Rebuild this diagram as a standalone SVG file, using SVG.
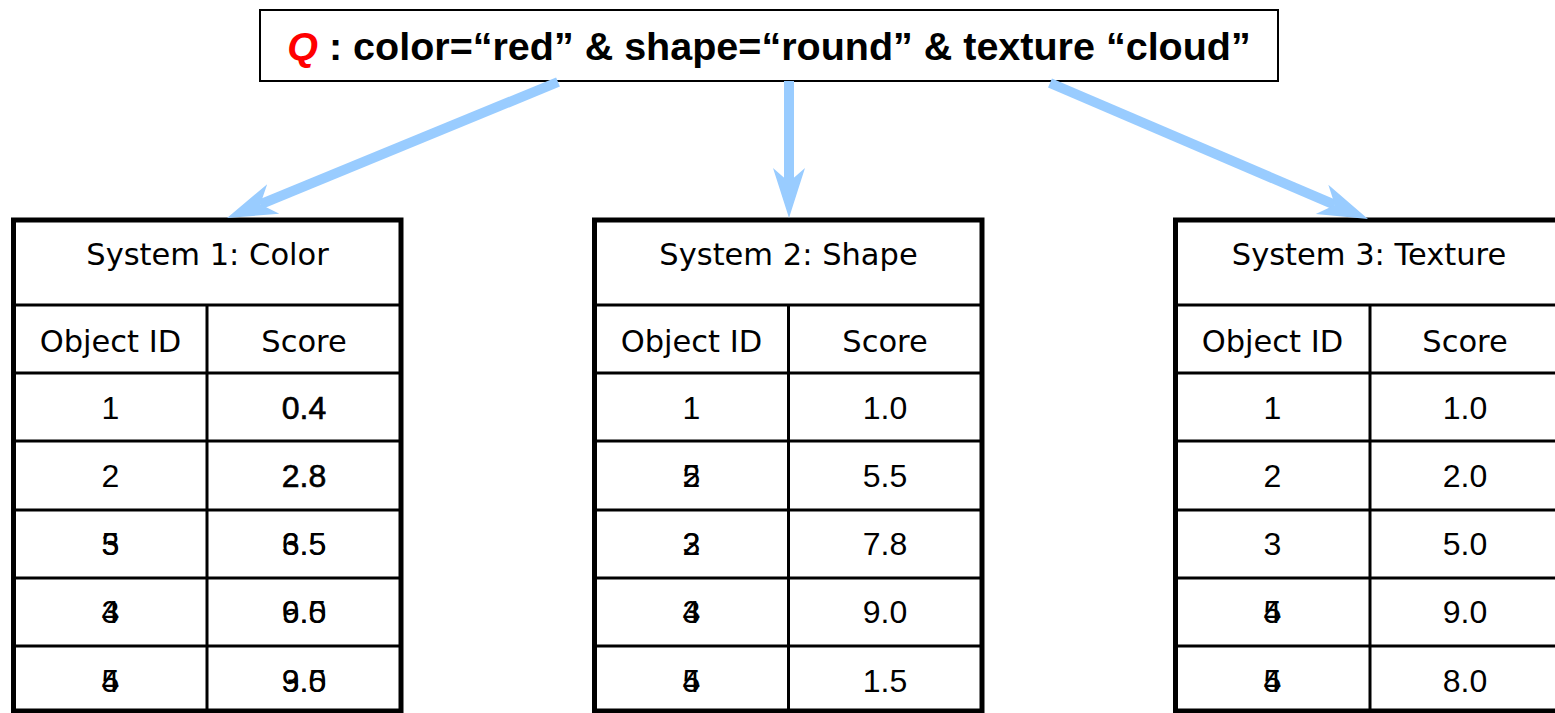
<svg xmlns="http://www.w3.org/2000/svg" width="1555" height="713" viewBox="0 0 1555 713">
<defs>
<style>
.box{fill:#fff;stroke:#000;stroke-width:2}
.tb{fill:#fff;stroke:#000;stroke-width:5}
.ln{stroke:#000;stroke-width:3;fill:none}
.hd{font-family:"DejaVu Sans",Verdana,sans-serif;font-size:30.5px;text-anchor:middle;fill:#000}
.dt{font-family:"Liberation Sans",Arial,sans-serif;font-size:32px;text-anchor:middle;fill:#000}
.dk{stroke:#000;stroke-width:0.6}
.ttl{font-family:"Liberation Sans",Arial,sans-serif;font-size:39.5px;font-weight:bold;text-anchor:middle;fill:#000}
.arr{stroke:#99CCFF;stroke-width:10;fill:none;marker-end:url(#ah)}
</style>
<marker id="ah" markerUnits="userSpaceOnUse" orient="auto" refX="0" refY="0" markerWidth="60" markerHeight="40" overflow="visible">
<path d="M36,0 L-14,-16 L0,0 L-14,16 Z" fill="#99CCFF"/>
</marker>
</defs>
<rect width="1555" height="713" fill="#fff"/>

<g id="query">
<rect class="box" x="260" y="10" width="1018" height="71"/>
<text class="ttl" x="769" y="60"><tspan fill="#FF0000" font-style="italic">Q</tspan> : color=“red” &amp; shape=“round” &amp; texture “cloud”</text>
</g>

<g id="system1">
<rect class="tb" x="13.5" y="220" width="387.5" height="491"/>
<path class="ln" d="M16,305H399M16,373H399M16,441H399M16,510H399M16,578H399M16,646H399M207,305V709"/>
<text class="hd" x="207.5" y="265">System 1: Color</text>
<text class="hd" x="110.5" y="352">Object ID</text>
<text class="hd" x="304" y="352">Score</text>
<text class="dt" x="110.5" y="419">1</text>
<text class="dt dk" x="304" y="419">0.4</text>
<text class="dt" x="110.5" y="487">2</text>
<text class="dt dk" x="304" y="487">2.8</text>
<text class="dt" x="110.5" y="555">5</text>
<text class="dt" x="110.5" y="555">3</text>
<text class="dt" x="304" y="555">6.5</text>
<text class="dt" x="304" y="555">3.5</text>
<text class="dt" x="110.5" y="623">4</text>
<text class="dt" x="110.5" y="623">3</text>
<text class="dt" x="304" y="623">9.0</text>
<text class="dt" x="304" y="623">6.5</text>
<text class="dt" x="110.5" y="692">4</text>
<text class="dt" x="110.5" y="692">5</text>
<text class="dt" x="304" y="692">3.5</text>
<text class="dt" x="304" y="692">9.0</text>
</g>

<g id="system2">
<rect class="tb" x="594.5" y="220" width="387.5" height="491"/>
<path class="ln" d="M597,305H980M597,373H980M597,441H980M597,510H980M597,578H980M597,646H980M788.5,305V709"/>
<text class="hd" x="788.5" y="265">System 2: Shape</text>
<text class="hd" x="691.5" y="352">Object ID</text>
<text class="hd" x="885" y="352">Score</text>
<text class="dt" x="691.5" y="419">1</text>
<text class="dt" x="885" y="419">1.0</text>
<text class="dt" x="691.5" y="487">5</text>
<text class="dt" x="691.5" y="487">2</text>
<text class="dt" x="885" y="487">5.5</text>
<text class="dt" x="691.5" y="555">2</text>
<text class="dt" x="691.5" y="555">3</text>
<text class="dt" x="885" y="555">7.8</text>
<text class="dt" x="691.5" y="623">3</text>
<text class="dt" x="691.5" y="623">4</text>
<text class="dt" x="885" y="623">9.0</text>
<text class="dt" x="691.5" y="692">4</text>
<text class="dt" x="691.5" y="692">5</text>
<text class="dt" x="885" y="692">1.5</text>
</g>

<g id="system3">
<rect class="tb" x="1175.5" y="220" width="387.5" height="491"/>
<path class="ln" d="M1178,305H1561M1178,373H1561M1178,441H1561M1178,510H1561M1178,578H1561M1178,646H1561M1370,305V709"/>
<text class="hd" x="1369" y="265">System 3: Texture</text>
<text class="hd" x="1272.5" y="352">Object ID</text>
<text class="hd" x="1465" y="352">Score</text>
<text class="dt" x="1272.5" y="419">1</text>
<text class="dt" x="1465" y="419">1.0</text>
<text class="dt" x="1272.5" y="487">2</text>
<text class="dt" x="1465" y="487">2.0</text>
<text class="dt" x="1272.5" y="555">3</text>
<text class="dt" x="1465" y="555">5.0</text>
<text class="dt" x="1272.5" y="623">4</text>
<text class="dt" x="1272.5" y="623">5</text>
<text class="dt" x="1465" y="623">9.0</text>
<text class="dt" x="1272.5" y="692">5</text>
<text class="dt" x="1272.5" y="692">4</text>
<text class="dt" x="1465" y="692">8.0</text>
</g>

<g id="connectors">
<line class="arr" x1="558" y1="82" x2="260.3" y2="204.3"/>
<line class="arr" x1="789" y1="81" x2="789" y2="182"/>
<line class="arr" x1="1050" y1="83" x2="1334.9" y2="204.9"/>
</g>
</svg>
